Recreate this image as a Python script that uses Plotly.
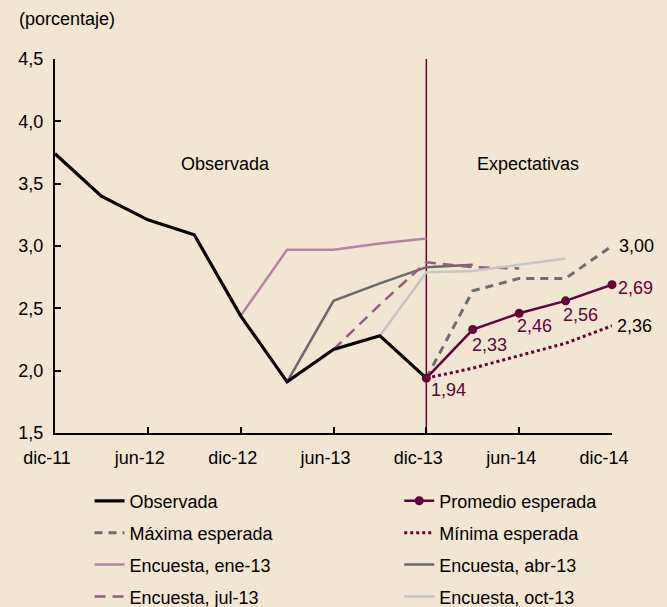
import plotly.graph_objects as go

quarters = ["dic-11", "mar-12", "jun-12", "sep-12", "dic-12", "mar-13", "jun-13",
            "sep-13", "dic-13", "mar-14", "jun-14", "sep-14", "dic-14"]
tick_labels = ["dic-11", "jun-12", "dic-12", "jun-13", "dic-13", "jun-14", "dic-14"]
y_ticks = [1.5, 2.0, 2.5, 3.0, 3.5, 4.0, 4.5]

obs_x = quarters[0:9]
observada = [3.74, 3.40, 3.21, 3.09, 2.44, 1.91, 2.17, 2.28, 1.94]

ene13_x = quarters[4:9]
ene13 = [2.44, 2.97, 2.97, 3.02, 3.06]

abr13_x = quarters[5:10]
abr13 = [1.91, 2.56, 2.70, 2.83, 2.85]

jul13_x = quarters[6:11]
jul13 = [2.17, 2.53, 2.87, 2.83, 2.82]

oct13_x = quarters[7:12]
oct13 = [2.28, 2.79, 2.80, 2.85, 2.90]

exp_x = quarters[8:13]
maxima = [1.94, 2.64, 2.74, 2.74, 3.00]
promedio = [1.94, 2.33, 2.46, 2.56, 2.69]
minima = [1.94, 2.02, 2.12, 2.22, 2.36]

BG = "#F0E6D1"
MAROON = "#650038"
FONT = "Liberation Sans"

fig = go.Figure()

def add(x, y, name, color, width, dash="solid", legend="legend", rank=1, mode="lines", marker=None):
    fig.add_trace(go.Scatter(
        x=x, y=y, name=name, mode=mode,
        line=dict(color=color, width=width, dash=dash),
        marker=marker, legend=legend, legendgroup=name, legendrank=rank,
        hoverinfo="skip", cliponaxis=False,
    ))

add(ene13_x, ene13, "Encuesta, ene-13", "#B585A4", 2.5, legend="legend", rank=3)
add(abr13_x, abr13, "Encuesta, abr-13", "#6A6A6A", 2.5, legend="legend2", rank=3)
add(jul13_x, jul13, "Encuesta, jul-13", "#955C82", 2.5, dash="11px,7px", legend="legend", rank=4)
add(oct13_x, oct13, "Encuesta, oct-13", "#C6C6C6", 2.5, legend="legend2", rank=4)
add(exp_x, maxima, "Máxima esperada", "#6E6E6E", 3, dash="8px,6px", legend="legend", rank=2)
add(exp_x, minima, "Mínima esperada", MAROON, 3, dash="3px,3px", legend="legend2", rank=2)
add(obs_x, observada, "Observada", "#000000", 3.2, legend="legend", rank=1)
add(exp_x, promedio, "Promedio esperada", MAROON, 2.5, legend="legend2", rank=1,
    mode="lines+markers", marker=dict(size=9, color=MAROON))

# vertical separator at dic-13
fig.add_shape(type="line", xref="x", yref="paper", x0=quarters.index("dic-13"),
              x1=quarters.index("dic-13"), y0=0, y1=1,
              line=dict(color=MAROON, width=1.5), layer="below")

annots = []
lab_font = dict(family=FONT, size=18, color=MAROON)
annots.append(dict(x=exp_x[0], y=promedio[0], text="1,94", xanchor="left", yanchor="top",
                   xshift=3, yshift=0, font=lab_font))
for i, (xs, ys) in enumerate([(-3, -3), (-4, -1), (-5, -2)], start=1):
    annots.append(dict(x=exp_x[i], y=promedio[i], text=f"{promedio[i]:.2f}".replace(".", ","),
                       xanchor="left", yanchor="top", xshift=xs, yshift=ys, font=lab_font))
annots.append(dict(x=exp_x[4], y=promedio[4], text="2,69", xanchor="left", yanchor="middle",
                   xshift=4, yshift=-3, font=lab_font))
annots.append(dict(x=exp_x[4], y=maxima[4], text="3,00", xanchor="left", yanchor="middle",
                   xshift=5, yshift=0, font=dict(family=FONT, size=18, color="#000000")))
annots.append(dict(x=exp_x[4], y=minima[4], text="2,36", xanchor="left", yanchor="middle",
                   xshift=3, yshift=0, font=dict(family=FONT, size=18, color="#000000")))
for a in annots:
    a.update(showarrow=False, xref="x", yref="y")

annots.append(dict(x=0.307, y=0.719, xref="paper", yref="paper", text="Observada",
                   showarrow=False, xanchor="center", yanchor="middle",
                   font=dict(family=FONT, size=18, color="#000000")))
annots.append(dict(x=0.849, y=0.719, xref="paper", yref="paper", text="Expectativas",
                   showarrow=False, xanchor="center", yanchor="middle",
                   font=dict(family=FONT, size=18, color="#000000")))
annots.append(dict(x=-0.068, y=1.107, xref="paper", yref="paper", text="(porcentaje)",
                   showarrow=False, xanchor="left", yanchor="middle",
                   font=dict(family=FONT, size=18, color="#000000")))

leg_common = dict(orientation="v", xanchor="left", yanchor="top", bgcolor="rgba(0,0,0,0)",
                  font=dict(family=FONT, size=18, color="#000000"), tracegroupgap=5.5,
                  itemclick=False, itemdoubleclick=False)

fig.update_layout(
    width=667, height=607,
    margin=dict(l=55, r=55, t=59, b=174, autoexpand=False),
    paper_bgcolor=BG, plot_bgcolor=BG,
    separators=",.",
    font=dict(family=FONT, size=18, color="#000000"),
    showlegend=True,
    legend=dict(x=0.062, y=-0.1326, **leg_common),
    legend2=dict(x=0.618, y=-0.1326, **leg_common),
    annotations=annots,
    xaxis=dict(
        type="category", categoryorder="array", categoryarray=quarters,
        range=[0, len(quarters) - 1],
        tickmode="array", tickvals=tick_labels, ticktext=tick_labels,
        showgrid=False, zeroline=False,
        showline=True, linecolor="#000000", linewidth=2,
        ticks="inside", ticklen=6, tickwidth=2, tickcolor="#000000",
        tickfont=dict(family=FONT, size=18, color="#000000"),
        ticklabelshift=-8, ticklabelstandoff=7,
    ),
    yaxis=dict(
        range=[1.5, 4.5], tickvals=y_ticks, tickformat=".1f",
        showgrid=False, zeroline=False,
        showline=True, linecolor="#000000", linewidth=2,
        ticks="inside", ticklen=6, tickwidth=2, tickcolor="#000000",
        tickfont=dict(family=FONT, size=18, color="#000000"),
        ticklabelstandoff=6,
    ),
)

fig.write_html(
    "out.html",
    config={"displayModeBar": False},
    post_script="document.body.style.margin='0px';document.body.style.overflow='hidden';",
)
